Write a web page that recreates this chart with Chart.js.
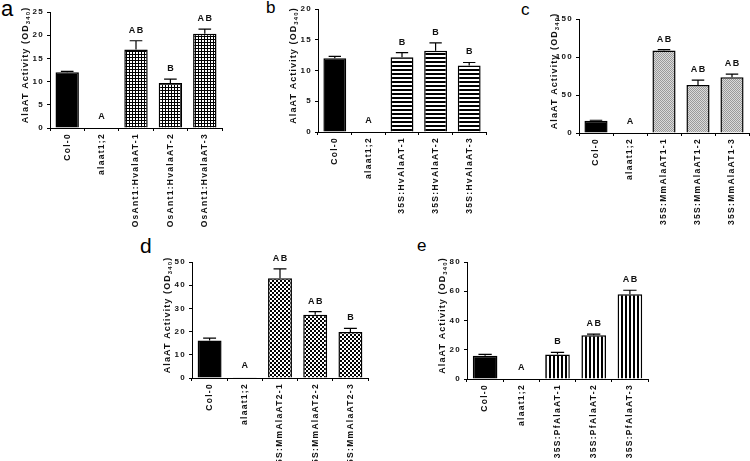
<!DOCTYPE html>
<html>
<head>
<meta charset="utf-8">
<script src="https://cdn.jsdelivr.net/npm/chart.js@4.4.1/dist/chart.umd.min.js"></script>
<style>
  html, body { margin: 0; padding: 0; background: #fff; }
  body { width: 750px; height: 461px; position: relative; overflow: hidden; }
  canvas { position: absolute; }
  .plab { position: absolute; font-family: "Liberation Sans", Arial, sans-serif; color: #000; line-height: 1; }
</style>
</head>
<body>
<div class="plab" style="left:1px;top:-2px;font-size:22px;">a</div>
<div class="plab" style="left:266px;top:-1px;font-size:17px;">b</div>
<div class="plab" style="left:521px;top:1px;font-size:17px;">c</div>
<div class="plab" style="left:140px;top:235px;font-size:21px;">d</div>
<div class="plab" style="left:417px;top:237px;font-size:17px;">e</div>
<script>
// ---------- data ----------
const catsA = ["Col-0", "alaat1;2", "OsAnt1:HvalaAT-1", "OsAnt1:HvalaAT-2", "OsAnt1:HvalaAT-3"];
const valsA = [12.0, 0, 16.9, 9.7, 20.3];
const errsA = [0.2, 0, 1.9, 0.85, 1.0];
const sigA  = ["", "A", "AB", "B", "AB"];

const catsB = ["Col-0", "alaat1;2", "35S:HvAlaAT-1", "35S:HvAlaAT-2", "35S:HvAlaAT-3"];
const valsB = [12.0, 0, 12.15, 13.2, 10.8];
const errsB = [0.3, 0, 0.75, 1.3, 0.5];
const sigB  = ["", "A", "B", "B", "B"];

const catsC = ["Col-0", "alaat1;2", "35S:MmAlaAT1-1", "35S:MmAlaAT1-2", "35S:MmAlaAT1-3"];
const valsC = [16, 0.5, 108.5, 63, 73.5];
const errsC = [0.8, 0, 1.2, 6.5, 4];
const sigC  = ["", "A", "AB", "AB", "AB"];

const catsD = ["Col-0", "alaat1;2", "35S:MmAlaAT2-1", "35S:MmAlaAT2-2", "35S:MmAlaAT2-3"];
const valsD = [16.2, 0.3, 43, 27.3, 19.8];
const errsD = [1.0, 0, 4, 1.3, 1.6];
const sigD  = ["", "A", "AB", "AB", "B"];

const catsE = ["Col-0", "alaat1;2", "35S:PfAlaAT-1", "35S:PfAlaAT-2", "35S:PfAlaAT-3"];
const valsE = [15.9, 0.3, 16.8, 30, 58];
const errsE = [0.9, 0, 1.4, 0.7, 2.7];
const sigE  = ["", "A", "B", "AB", "AB"];

const yMaxes = [25, 20, 150, 50, 80];
const ySteps = [5, 5, 50, 10, 20];
const yTitle = "AlaAT Activity (OD";
const yTitleSub = "340";

// ---------- patterns ----------
function makePattern(w, h, draw) {
  const c = document.createElement('canvas');
  c.width = w; c.height = h;
  const g = c.getContext('2d');
  g.fillStyle = '#fff'; g.fillRect(0, 0, w, h);
  draw(g);
  return g.createPattern(c, 'repeat');
}
const patGrid = makePattern(3, 3, g => { g.fillStyle = '#000'; g.fillRect(0, 0, 3, 1); g.fillRect(0, 0, 1, 3); });
const patHoriz = makePattern(1, 4, g => { g.fillStyle = '#000'; g.fillRect(0, 0, 1, 2); });
const patDots = makePattern(2, 2, g => { g.fillStyle = '#dadada'; g.fillRect(0, 0, 2, 2); g.fillStyle = '#9a9a9a'; g.fillRect(0, 0, 1, 1); g.fillRect(1, 1, 1, 1); });
const patCheck = makePattern(4, 4, g => { g.fillStyle = '#000'; g.fillRect(0, 0, 2, 2); g.fillRect(2, 2, 2, 2); });
const patVert = makePattern(4, 1, g => { g.fillStyle = '#000'; g.fillRect(0, 0, 2, 1); });

const FONT = "'Liberation Sans', Arial, sans-serif";
const LS = '1.3px';

// ---------- plugins ----------
function setLS(chart) { chart.ctx.letterSpacing = LS; }
const spacingPlugin = {
  id: 'spacing',
  beforeUpdate: setLS,
  beforeLayout: setLS,
  afterLayout: setLS,
  beforeDraw: setLS,
  beforeDatasetsDraw: setLS
};

const errSigPlugin = {
  id: 'errSig',
  afterDatasetsDraw(chart, args, opts) {
    const ctx = chart.ctx;
    const y = chart.scales.y;
    const meta = chart.getDatasetMeta(0);
    const vals = chart.data.datasets[0].data;
    ctx.save();
    ctx.strokeStyle = '#000';
    ctx.lineWidth = 1.2;
    ctx.fillStyle = '#111';
    ctx.font = "bold 9px " + FONT;
    ctx.letterSpacing = '1.5px';
    ctx.textAlign = 'center';
    ctx.textBaseline = 'middle';
    meta.data.forEach((bar, i) => {
      const v = vals[i], e = opts.errs[i];
      const yTop = y.getPixelForValue(v + e);
      if (e > 0) {
        const yv = y.getPixelForValue(v);
        const half = bar.width * 0.27;
        ctx.beginPath();
        ctx.moveTo(bar.x, yv);
        ctx.lineTo(bar.x, yTop);
        ctx.moveTo(bar.x - half, yTop);
        ctx.lineTo(bar.x + half, yTop);
        ctx.stroke();
      }
      const s = opts.sigs[i];
      if (s) ctx.fillText(s, bar.x + 0.75, yTop - (e > 0 ? 10.5 : 11.5));
    });
    ctx.restore();
  }
};

const yTitlePlugin = {
  id: 'yTitleDraw',
  afterDraw(chart) {
    const ctx = chart.ctx;
    const a = chart.chartArea;
    ctx.save();
    ctx.fillStyle = '#111';
    ctx.letterSpacing = '1.1px';
    const mainFont = "bold 9px " + FONT;
    const subFont = "bold 6px " + FONT;
    ctx.font = mainFont;
    const w1 = ctx.measureText(yTitle).width;
    ctx.font = subFont;
    const w2 = ctx.measureText(yTitleSub).width;
    ctx.font = mainFont;
    const w3 = ctx.measureText(")").width;
    const total = w1 + w2 + w3;
    ctx.translate(a.left - 24, (a.top + a.bottom) / 2 - 5);
    ctx.rotate(-Math.PI / 2);
    ctx.textAlign = 'left';
    ctx.textBaseline = 'middle';
    let x = -total / 2;
    ctx.font = mainFont;
    ctx.fillText(yTitle, x, 0); x += w1;
    ctx.font = subFont;
    ctx.fillText(yTitleSub, x, 2.5); x += w2;
    ctx.font = mainFont;
    ctx.fillText(")", x, 0);
    ctx.restore();
  }
};

// ---------- panels ----------
const panels = [
  { cats: catsA, vals: valsA, errs: errsA, sigs: sigA, pat: patGrid,  L: 50,  R: 222, T: 12,  B: 128 },
  { cats: catsB, vals: valsB, errs: errsB, sigs: sigB, pat: patHoriz, L: 318, R: 486, T: 9,   B: 132 },
  { cats: catsC, vals: valsC, errs: errsC, sigs: sigC, pat: patDots,  L: 579, R: 749, T: 19,  B: 133 },
  { cats: catsD, vals: valsD, errs: errsD, sigs: sigD, pat: patCheck, L: 192, R: 368, T: 262, B: 378 },
  { cats: catsE, vals: valsE, errs: errsE, sigs: sigE, pat: patVert,  L: 467, R: 648, T: 262, B: 379 }
];

const YW = 50, XH = 110, PT = 12, PR = 4;

panels.forEach((p, k) => {
  const cv = document.createElement('canvas');
  const w = p.R - p.L + YW + PR;
  const h = p.B - p.T + PT + XH;
  cv.width = w; cv.height = h;
  cv.style.left = (p.L - YW) + 'px';
  cv.style.top = (p.T - PT) + 'px';
  cv.style.width = w + 'px';
  cv.style.height = h + 'px';
  document.body.appendChild(cv);

  new Chart(cv, {
    type: 'bar',
    data: {
      labels: p.cats,
      datasets: [{
        data: p.vals,
        backgroundColor: p.vals.map((v, i) => i === 0 ? '#000' : p.pat),
        borderColor: '#000',
        borderWidth: p.vals.map((v, i) => i === 1 ? 1 : 1.5),
        barPercentage: 0.68,
        categoryPercentage: 1.0
      }]
    },
    options: {
      responsive: false,
      animation: false,
      devicePixelRatio: 1,
      layout: { padding: { top: PT, right: PR, left: 0, bottom: 0 } },
      plugins: {
        legend: { display: false },
        tooltip: { enabled: false },
        errSig: { errs: p.errs, sigs: p.sigs }
      },
      scales: {
        x: {
          offset: true,
          afterFit(s) { s.height = XH; },
          grid: { display: true, drawOnChartArea: false, drawTicks: true, tickLength: 3, color: '#000' },
          border: { display: true, color: '#000', width: 1 },
          ticks: {
            color: '#111',
            font: { family: FONT, size: 8.5, weight: 'bold' },
            minRotation: 90, maxRotation: 90,
            padding: 2,
            autoSkip: false
          }
        },
        y: {
          min: 0, max: yMaxes[k],
          afterFit(s) { s.width = YW; },
          grid: { display: true, drawOnChartArea: false, drawTicks: true, tickLength: 3, color: '#000' },
          border: { display: true, color: '#000', width: 1 },
          ticks: {
            stepSize: ySteps[k],
            color: '#111',
            font: { family: FONT, size: 8, weight: 'bold' },
            padding: 3
          }
        }
      }
    },
    plugins: [spacingPlugin, errSigPlugin, yTitlePlugin]
  });
});
</script>
</body>
</html>
